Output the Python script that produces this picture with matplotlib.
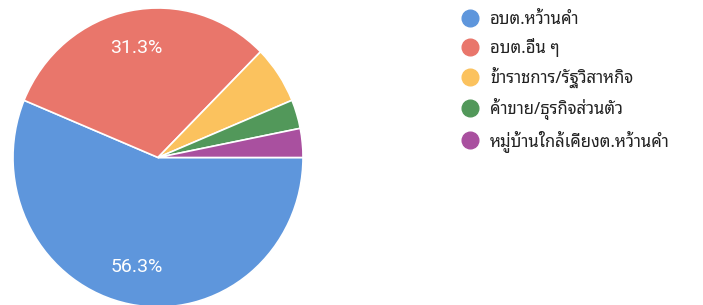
import math
import matplotlib
matplotlib.use("Agg")
import matplotlib.pyplot as plt
from matplotlib import font_manager as fm
from matplotlib.lines import Line2D

labels = ["อบต.หว้านคำ", "อบต.อื่น ๆ", "ข้าราชการ/รัฐวิสาหกิจ",
          "ค้าขาย/ธุรกิจส่วนตัว", "หมู่บ้านใกล้เคียงต.หว้านคำ"]
counts = [18, 10, 2, 1, 1]
colors = ["#5e96dc", "#e9766b", "#fbc25e", "#52985a", "#a9509f"]

# pick a Thai font that is actually installed
names = {f.name for f in fm.fontManager.ttflist}
thai = None
for cand in ["Noto Sans Thai Looped", "IBM Plex Sans Thai Looped", "Noto Sans Thai",
             "Sarabun", "IBM Plex Sans Thai", "Kanit"]:
    if cand in names:
        thai = cand
        break
fams = [thai, "DejaVu Sans"] if thai else ["DejaVu Sans"]


def pct_label(p):
    if p < 10:
        return ""
    return f"{math.floor(p * 10 + 0.5) / 10:.1f}%"


fig = plt.figure(figsize=(7.03, 3.05), dpi=100)
# photo of the chart: pie is slightly taller than wide
ax = fig.add_axes([13 / 703, -2 / 305, 290 / 703, 299 / 305])
wedges, texts, autotexts = ax.pie(
    counts, colors=colors, startangle=0, counterclock=False,
    autopct=pct_label, pctdistance=0.75, radius=1,
    wedgeprops=dict(edgecolor="white", linewidth=1.2),
    textprops=dict(color="white", fontsize=14, family=["Roboto", "DejaVu Sans"]))
ax.set_xlim(-1.0, 1.0)
ax.set_ylim(-1.0, 1.0)
ax.set_aspect("auto")

handles = [Line2D([0], [0], marker="o", linestyle="none", markersize=12,
                  markerfacecolor=c, markeredgecolor=c) for c in colors]
fig.legend(handles, labels, loc="upper left", bbox_to_anchor=(453 / 703, 1 - 5 / 305),
           frameon=False, prop=dict(family=fams, size=12), labelspacing=0.6,
           handletextpad=0.62, handlelength=1.2, borderaxespad=0,
           labelcolor="#222222")

fig.savefig("out.png")
